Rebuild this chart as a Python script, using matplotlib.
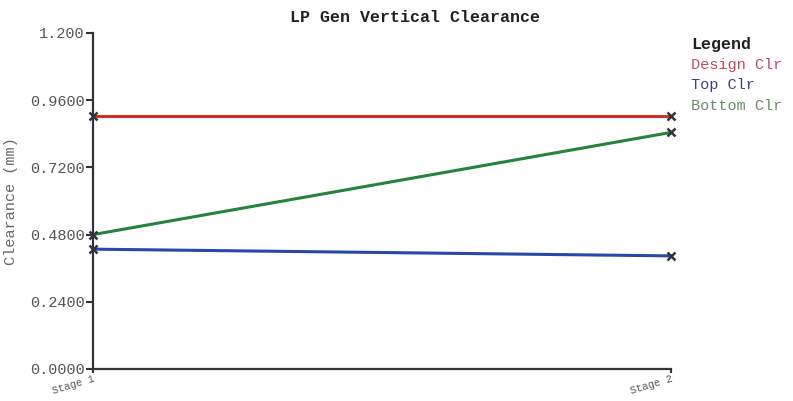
"""
LP Gen vertical clearance chart: design, top and bottom clearance per stage.
"""

import matplotlib
matplotlib.use("Agg")
import matplotlib.pyplot as plt

# chart data
stages = ["Stage 1", "Stage 2"]
design_clr = [0.905, 0.905]
top_clr = [0.428, 0.404]
bottom_clr = [0.480, 0.845]
y_ticks = [0.0, 0.24, 0.48, 0.72, 0.96, 1.2]
y_tick_labels = ["0.0000", "0.2400", "0.4800", "0.7200", "0.9600", "1.200"]
legend_names = ["Design Clr", "Top Clr", "Bottom Clr"]

MONO = "Liberation Mono"
LINE_COLORS = ["#d0302c", "#2a48a8", "#24843c"]
LEGEND_COLORS = ["#c44a62", "#37477a", "#6c8a6c"]

fig = plt.figure(figsize=(7.93, 4.01), dpi=100)
ax = fig.add_axes([93 / 793, 1 - 369 / 401, (671 - 93) / 793, (369 - 33) / 401])

x = list(range(len(stages)))
for vals, col in zip([design_clr, top_clr, bottom_clr], LINE_COLORS):
    ax.plot(x, vals, color=col, lw=2.2, zorder=2, clip_on=False)
    ax.plot(x, vals, ls="none", marker="x", ms=6, mew=1.8, color="#333340",
            zorder=3, clip_on=False)

ax.set_xlim(0, 1)
ax.set_ylim(0, 1.2)
ax.set_yticks(y_ticks)
ax.set_yticklabels(y_tick_labels, family=MONO, fontsize=11, color="#555555")
ax.set_xticks(x)
ax.set_xticklabels(stages, family=MONO, fontsize=7.5, color="#555555",
                   rotation=17, ha="right", va="top", rotation_mode="anchor")
ax.tick_params(axis="y", length=5, width=1.5, color="#333333", pad=1)
ax.tick_params(axis="x", length=3, width=1.5, color="#333333", pad=0)

for side in ["top", "right"]:
    ax.spines[side].set_visible(False)
for side in ["left", "bottom"]:
    ax.spines[side].set_linewidth(1.6)
    ax.spines[side].set_color("#333333")

ax.set_ylabel("Clearance (mm)", family=MONO, fontsize=11, color="#666666")
ax.yaxis.set_label_coords(-0.13, 0.5)

fig.text(415 / 793, 1 - 18 / 401, "LP Gen Vertical Clearance", family=MONO,
         fontsize=12, weight="bold", ha="center", va="center", color="#222222")

# legend drawn as plain text to the right of the plot
fig.text(691 / 793, 1 - 45 / 401, "Legend", family=MONO, fontsize=12,
         weight="bold", ha="left", va="center", color="#222222")
for i, (name, col) in enumerate(zip(legend_names, LEGEND_COLORS)):
    fig.text(691 / 793, 1 - (65 + 20.5 * i) / 401, name, family=MONO, fontsize=11,
             ha="left", va="center", color=col)

fig.savefig("out.png", dpi=100)
